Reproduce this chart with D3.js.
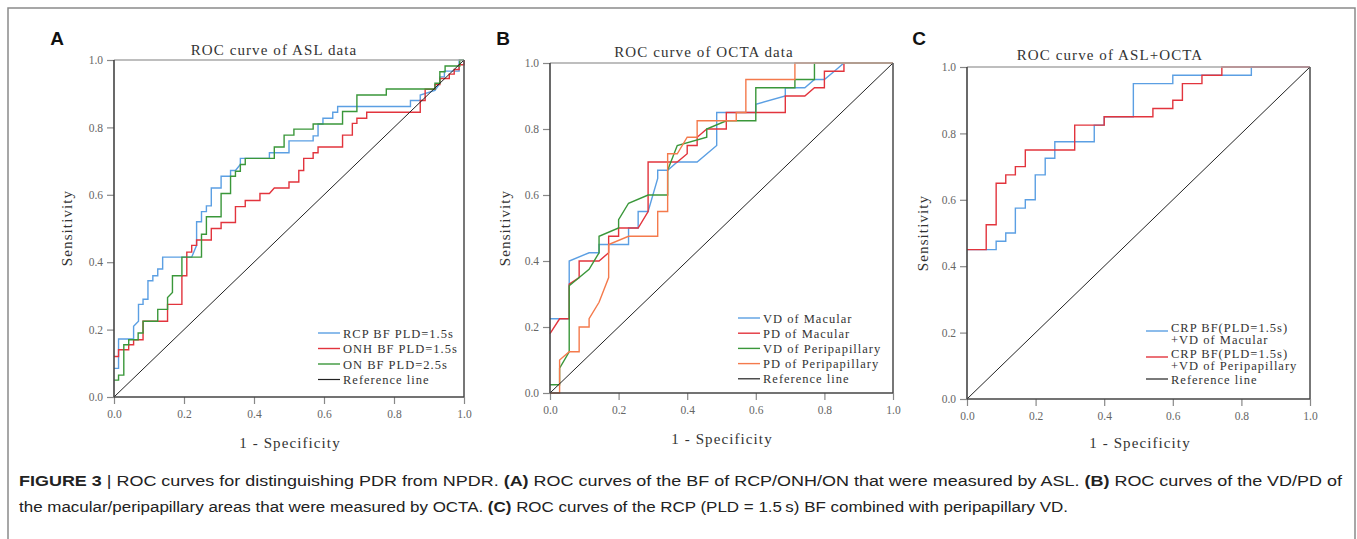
<!DOCTYPE html>
<html><head><meta charset="utf-8">
<script src="https://cdn.jsdelivr.net/npm/d3@7"></script>
<style>body{margin:0;background:#fff}svg{display:block}</style>
</head><body>
<svg id="fig" width="1357" height="539"></svg>
<script>
// ---------- data ----------
const tickValues = [0, 0.2, 0.4, 0.6, 0.8, 1.0];
const panelLetters = ["A", "B", "C"];
const panelTitles = ["ROC curve of ASL data", "ROC curve of OCTA data", "ROC curve of ASL+OCTA"];
const xAxisLabel = "1 - Specificity";
const yAxisLabel = "Sensitivity";
const referenceLine = [[0, 0], [1, 1]];

// Panel A (ASL)
const aslRcp = [[0,0.085],[0.013,0.085],[0.013,0.172],[0.056,0.172],[0.056,0.21],[0.07,0.225],[0.07,0.275],[0.083,0.275],[0.083,0.29],[0.097,0.29],[0.097,0.345],[0.111,0.345],[0.111,0.36],[0.125,0.36],[0.125,0.38],[0.139,0.38],[0.139,0.415],[0.222,0.415],[0.236,0.45],[0.236,0.52],[0.25,0.52],[0.25,0.55],[0.264,0.55],[0.264,0.567],[0.278,0.567],[0.278,0.62],[0.306,0.62],[0.306,0.655],[0.333,0.655],[0.333,0.672],[0.347,0.672],[0.361,0.69],[0.361,0.708],[0.444,0.708],[0.444,0.725],[0.5,0.725],[0.5,0.76],[0.569,0.76],[0.569,0.775],[0.583,0.775],[0.583,0.81],[0.597,0.81],[0.597,0.827],[0.625,0.827],[0.625,0.845],[0.639,0.845],[0.639,0.862],[0.847,0.862],[0.847,0.88],[0.875,0.88],[0.875,0.896],[0.917,0.91],[0.931,0.93],[0.931,0.95],[0.944,0.95],[0.944,0.967],[0.986,0.967],[0.986,1],[1,1]];
const aslOnh = [[0,0.12],[0.013,0.12],[0.013,0.14],[0.042,0.14],[0.042,0.155],[0.056,0.155],[0.056,0.17],[0.083,0.17],[0.083,0.225],[0.153,0.225],[0.153,0.275],[0.194,0.275],[0.194,0.36],[0.208,0.36],[0.208,0.43],[0.222,0.43],[0.222,0.45],[0.236,0.45],[0.236,0.466],[0.278,0.466],[0.278,0.5],[0.306,0.5],[0.306,0.518],[0.347,0.518],[0.347,0.565],[0.375,0.565],[0.375,0.583],[0.417,0.583],[0.417,0.604],[0.444,0.604],[0.458,0.62],[0.5,0.62],[0.5,0.638],[0.528,0.638],[0.528,0.672],[0.542,0.672],[0.542,0.708],[0.569,0.708],[0.569,0.725],[0.583,0.725],[0.583,0.742],[0.653,0.742],[0.653,0.777],[0.681,0.777],[0.681,0.812],[0.694,0.812],[0.694,0.827],[0.722,0.827],[0.722,0.845],[0.875,0.845],[0.875,0.88],[0.889,0.88],[0.889,0.913],[0.917,0.913],[0.917,0.927],[0.931,0.927],[0.931,0.945],[0.958,0.945],[0.958,0.958],[0.972,0.958],[0.972,0.972],[0.986,0.972],[0.986,0.986],[1,0.986],[1,1]];
const aslOn = [[0,0.05],[0.013,0.05],[0.013,0.065],[0.028,0.065],[0.028,0.155],[0.042,0.155],[0.042,0.17],[0.069,0.17],[0.069,0.19],[0.083,0.19],[0.083,0.225],[0.125,0.225],[0.125,0.26],[0.153,0.26],[0.153,0.295],[0.167,0.31],[0.167,0.36],[0.194,0.36],[0.194,0.415],[0.25,0.415],[0.25,0.483],[0.264,0.483],[0.264,0.535],[0.306,0.535],[0.306,0.604],[0.333,0.604],[0.333,0.655],[0.347,0.655],[0.347,0.67],[0.361,0.67],[0.361,0.69],[0.375,0.69],[0.375,0.708],[0.458,0.708],[0.458,0.742],[0.486,0.742],[0.486,0.777],[0.514,0.777],[0.514,0.795],[0.569,0.795],[0.569,0.81],[0.653,0.81],[0.653,0.847],[0.694,0.847],[0.694,0.896],[0.778,0.896],[0.778,0.914],[0.917,0.914],[0.917,0.931],[0.931,0.931],[0.931,0.965],[0.946,0.965],[0.946,0.982],[0.988,0.982],[0.988,1],[1,1]];

// Panel B (OCTA)
const vdMacular = [[0,0.225],[0.056,0.225],[0.056,0.40],[0.114,0.425],[0.143,0.425],[0.143,0.45],[0.229,0.45],[0.229,0.50],[0.257,0.50],[0.257,0.55],[0.286,0.55],[0.314,0.65],[0.314,0.675],[0.343,0.675],[0.371,0.70],[0.429,0.70],[0.486,0.75],[0.486,0.85],[0.6,0.85],[0.6,0.875],[0.686,0.90],[0.686,0.925],[0.743,0.925],[0.771,0.95],[0.8,0.95],[0.829,0.975],[0.857,1.0],[1,1]];
const pdMacular = [[0,0.18],[0.028,0.225],[0.056,0.225],[0.056,0.33],[0.085,0.35],[0.085,0.40],[0.143,0.40],[0.171,0.425],[0.171,0.475],[0.2,0.475],[0.2,0.5],[0.257,0.5],[0.286,0.55],[0.286,0.70],[0.343,0.70],[0.371,0.70],[0.4,0.725],[0.4,0.75],[0.429,0.75],[0.429,0.775],[0.457,0.80],[0.514,0.80],[0.514,0.85],[0.686,0.85],[0.686,0.90],[0.743,0.90],[0.771,0.925],[0.8,0.925],[0.8,0.975],[0.857,0.975],[0.857,1.0],[1,1]];
const vdPeri = [[0,0.025],[0.028,0.025],[0.028,0.075],[0.056,0.125],[0.056,0.325],[0.114,0.375],[0.143,0.425],[0.143,0.475],[0.2,0.5],[0.2,0.525],[0.229,0.575],[0.286,0.60],[0.343,0.60],[0.343,0.675],[0.371,0.75],[0.457,0.775],[0.457,0.80],[0.514,0.825],[0.6,0.825],[0.6,0.925],[0.714,0.925],[0.714,0.95],[0.771,0.95],[0.771,1.0],[1,1]];
const pdPeri = [[0,0],[0.028,0],[0.028,0.10],[0.056,0.125],[0.085,0.125],[0.085,0.20],[0.114,0.20],[0.114,0.225],[0.143,0.275],[0.171,0.35],[0.171,0.45],[0.229,0.475],[0.314,0.475],[0.314,0.55],[0.343,0.55],[0.343,0.725],[0.371,0.725],[0.4,0.775],[0.429,0.775],[0.429,0.825],[0.543,0.825],[0.543,0.85],[0.571,0.85],[0.571,0.95],[0.714,0.95],[0.714,1.0],[1,1]];

// Panel C (ASL+OCTA)
const comboMacular = [[0,0.45],[0.085,0.45],[0.085,0.475],[0.113,0.475],[0.113,0.50],[0.141,0.50],[0.141,0.575],[0.17,0.575],[0.17,0.60],[0.199,0.60],[0.199,0.675],[0.228,0.675],[0.228,0.725],[0.256,0.725],[0.256,0.775],[0.371,0.775],[0.371,0.825],[0.4,0.825],[0.4,0.85],[0.485,0.85],[0.485,0.95],[0.6,0.95],[0.6,0.975],[0.829,0.975],[0.829,1.0],[1,1]];
const comboPeri = [[0,0.45],[0.056,0.45],[0.056,0.525],[0.085,0.525],[0.085,0.65],[0.113,0.65],[0.113,0.675],[0.141,0.675],[0.141,0.70],[0.17,0.70],[0.17,0.75],[0.314,0.75],[0.314,0.825],[0.4,0.825],[0.4,0.85],[0.542,0.85],[0.542,0.875],[0.6,0.875],[0.6,0.90],[0.628,0.90],[0.628,0.95],[0.685,0.95],[0.685,0.975],[0.743,0.975],[0.743,1.0],[1,1]];

const legendA = ["RCP BF PLD=1.5s", "ONH BF PLD=1.5s", "ON BF PLD=2.5s", "Reference line"];
const legendB = ["VD of Macular", "PD of Macular", "VD of Peripapillary", "PD of Peripapillary", "Reference line"];
const legendC = [["CRP BF(PLD=1.5s)", "+VD of Macular"], ["CRP BF(PLD=1.5s)", "+VD of Peripapillary"], ["Reference line"]];

// ---------- styles / layout ----------
const COL = {blue:"#5b9fe3", red:"#e2343d", green:"#3a973a", orange:"#f47a4c", ref:"#222"};
const SERIF = "'Liberation Serif','Times New Roman',serif";

const panels = [
  {x0:114, x1:464, y0:60, y1:397, titleX:274, titleY:55, yLabX:67, yLabY:228, xLabX:290, xLabY:448,
   series:[aslRcp, aslOnh, aslOn, referenceLine], colors:[COL.blue, COL.red, COL.green, COL.ref],
   legend:legendA, legX:318, legY:333, legStep:15.5, letter:[57,45]},
  {x0:550, x1:893, y0:63, y1:393, titleX:704, titleY:57, yLabX:505, yLabY:228, xLabX:722, xLabY:444,
   series:[vdMacular, pdMacular, vdPeri, pdPeri, referenceLine], colors:[COL.blue, COL.red, COL.green, COL.orange, COL.ref],
   legend:legendB, legX:738, legY:318, legStep:15.2, letter:[503,45]},
  {x0:967, x1:1310, y0:67, y1:399, titleX:1110, titleY:60, yLabX:923, yLabY:233, xLabX:1140, xLabY:448,
   series:[comboMacular, comboPeri, referenceLine], colors:[COL.blue, COL.red, COL.ref],
   legend:legendC, legX:1146, legY:327, legStep:26, letter:[919,45]}
];

const svg = d3.select("#fig");
// outer frame
svg.append("rect").attr("x",8).attr("y",8).attr("width",1347).attr("height",545)
  .attr("fill","none").attr("stroke","#8a8a8a").attr("stroke-width",1.5);

panels.forEach((p, i) => {
  const x = d3.scaleLinear().domain([0,1]).range([p.x0, p.x1]);
  const y = d3.scaleLinear().domain([0,1]).range([p.y1, p.y0]);
  const g = svg.append("g");

  // panel letter
  g.append("text").attr("x", p.letter[0]).attr("y", p.letter[1]).attr("text-anchor","middle")
    .attr("font-family","'Liberation Sans',Arial,sans-serif").attr("font-weight","bold").attr("font-size",19)
    .attr("fill","#111").text(panelLetters[i]);

  // title
  g.append("text").attr("x", p.titleX).attr("y", p.titleY).attr("text-anchor","middle")
    .attr("font-family", SERIF).attr("font-size",15).attr("letter-spacing",1.1).attr("fill","#333")
    .text(panelTitles[i]);

  // axes
  const ax = g.append("g").attr("transform",`translate(0,${p.y1})`)
    .call(d3.axisBottom(x).tickValues(tickValues).tickFormat(d3.format(".1f")).tickSize(7).tickPadding(6));
  const ay = g.append("g").attr("transform",`translate(${p.x0},0)`)
    .call(d3.axisLeft(y).tickValues(tickValues).tickFormat(d3.format(".1f")).tickSize(7).tickPadding(4));
  [ax, ay].forEach(a => {
    a.select(".domain").remove();
    a.selectAll(".tick line").attr("stroke","#888").attr("stroke-width",1.2);
    a.selectAll(".tick text").attr("font-family", SERIF).attr("font-size",11.5).attr("fill","#666");
  });

  // data lines
  const line = d3.line().x(d => x(d[0])).y(d => y(d[1]));
  p.series.forEach((s, k) => {
    g.append("path").datum(s).attr("d", line).attr("fill","none")
      .attr("stroke", p.colors[k]).attr("stroke-width", k === p.series.length-1 ? 1 : 1.4);
  });

  // frame
  g.append("line").attr("x1",p.x0).attr("x2",p.x1).attr("y1",p.y0).attr("y2",p.y0).attr("stroke","#a8a8a8").attr("stroke-width",1.5);
  g.append("line").attr("x1",p.x0).attr("x2",p.x0).attr("y1",p.y0).attr("y2",p.y1).attr("stroke","#444").attr("stroke-width",1.6);
  g.append("line").attr("x1",p.x1).attr("x2",p.x1).attr("y1",p.y0).attr("y2",p.y1).attr("stroke","#555").attr("stroke-width",1.6);
  g.append("line").attr("x1",p.x0).attr("x2",p.x1).attr("y1",p.y1).attr("y2",p.y1).attr("stroke","#444").attr("stroke-width",1.6);

  // axis labels
  g.append("text").attr("x", p.xLabX).attr("y", p.xLabY).attr("text-anchor","middle")
    .attr("font-family", SERIF).attr("font-size",15).attr("letter-spacing",1.1).attr("fill","#333").text(xAxisLabel);
  g.append("text").attr("transform",`translate(${p.yLabX},${p.yLabY}) rotate(-90)`).attr("text-anchor","middle")
    .attr("dominant-baseline","central")
    .attr("font-family", SERIF).attr("font-size",15).attr("letter-spacing",1.1).attr("fill","#333").text(yAxisLabel);

  // legend
  p.legend.forEach((lab, k) => {
    const lines = Array.isArray(lab) ? lab : [lab];
    const cy = p.legY + k * p.legStep;
    g.append("line").attr("x1", p.legX).attr("x2", p.legX + 22)
      .attr("y1", cy + (lines.length > 1 ? 4 : 0)).attr("y2", cy + (lines.length > 1 ? 4 : 0))
      .attr("stroke", p.colors[k]).attr("stroke-width", k === p.legend.length-1 ? 1.2 : 1.4);
    lines.forEach((t, j) => {
      g.append("text").attr("x", p.legX + 25).attr("y", cy + j*12 + 4.5)
        .attr("font-family", SERIF).attr("font-size",12.5).attr("letter-spacing",1).attr("fill","#333").text(t);
    });
  });
});

// caption
const cap = svg.append("g").attr("font-family","'Liberation Sans',Arial,sans-serif").attr("font-size",15.5).attr("fill","#222");
const cap1 = cap.append("text").attr("x",19).attr("y",486).attr("textLength",1323).attr("lengthAdjust","spacingAndGlyphs");
cap1.append("tspan").attr("font-weight","bold").text("FIGURE 3");
cap1.append("tspan").text(" | ROC curves for distinguishing PDR from NPDR. ");
cap1.append("tspan").attr("font-weight","bold").text("(A)");
cap1.append("tspan").text(" ROC curves of the BF of RCP/ONH/ON that were measured by ASL. ");
cap1.append("tspan").attr("font-weight","bold").text("(B)");
cap1.append("tspan").text(" ROC curves of the VD/PD of");
const cap2 = cap.append("text").attr("x",19).attr("y",512).attr("textLength",1049).attr("lengthAdjust","spacingAndGlyphs");
cap2.append("tspan").text("the macular/peripapillary areas that were measured by OCTA. ");
cap2.append("tspan").attr("font-weight","bold").text("(C)");
cap2.append("tspan").text(" ROC curves of the RCP (PLD = 1.5\u2009s) BF combined with peripapillary VD.");
</script>
</body></html>
